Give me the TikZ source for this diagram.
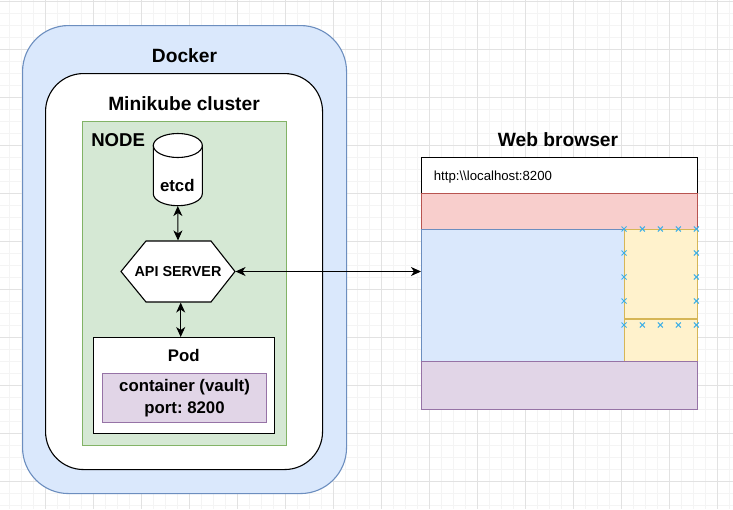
\documentclass[tikz,border=0pt]{standalone}
\usepackage{fontspec}
\setmainfont{Liberation Sans}
\usetikzlibrary{calc, arrows.meta}
\frenchspacing

\definecolor{dockerfill}{HTML}{DAE8FC}
\definecolor{dockerline}{HTML}{6C8EBF}
\definecolor{nodefill}{HTML}{D5E8D4}
\definecolor{nodeline}{HTML}{82B366}
\definecolor{vaultfill}{HTML}{E1D5E7}
\definecolor{vaultline}{HTML}{9673A6}
\definecolor{barfill}{HTML}{F8CECC}
\definecolor{barline}{HTML}{B85450}
\definecolor{sidefill}{HTML}{FFF2CC}
\definecolor{sideline}{HTML}{D6B656}
\definecolor{markcol}{HTML}{3FB0E6}
\definecolor{gridmajor}{HTML}{E2E2E2}
\definecolor{gridminor}{HTML}{F4F4F4}

\begin{document}
\begin{tikzpicture}[x=1pt, y=-1pt, line width=1.1pt,
	box/.style={draw, inner sep=0pt, anchor=north west},
	title/.style={anchor=base, inner sep=0pt, font=\fontsize{19.2}{23}\selectfont\bfseries},
	dblarrow/.style={line width=1pt, {Stealth[length=10pt, width=9pt, inset=3pt]}-{Stealth[length=10pt, width=9pt, inset=3pt]}},
	marker/.style={draw=markcol, line width=1pt}]
		%canvas
		\useasboundingbox (0,0) rectangle (733,509);
		\fill [white] (0,0) rectangle (733,509);
		
		%grid
		\foreach \gx in {9,21,...,729} \draw [gridminor, line width=0.8pt] (\gx,0) -- (\gx,509);
		\foreach \gy in {1.3,13.3,...,505.3} \draw [gridminor, line width=0.8pt] (0,\gy) -- (733,\gy);
		\foreach \gx in {45,93,...,717} \draw [gridmajor, line width=0.8pt] (\gx,0) -- (\gx,509);
		\foreach \gy in {1.3,49.3,...,481.3} \draw [gridmajor, line width=0.8pt] (0,\gy) -- (733,\gy);
		
		%docker and cluster
		\node [box, fill=dockerfill, draw=dockerline, rounded corners=46pt, minimum width=324pt, minimum height=468pt] (docker) at (22,25) {};
		\node [title] (dockerlabel) at (184.5,62) {Docker};
		\node [box, fill=white, rounded corners=38pt, minimum width=277pt, minimum height=396pt] (cluster) at (45,73) {};
		\node [title] (clusterlabel) at (184,110) {Minikube cluster};
		
		%node
		\node [box, fill=nodefill, draw=nodeline, minimum width=204pt, minimum height=324pt] (node) at (82,121) {};
		\node [anchor=base west, inner sep=0pt, font=\fontsize{18.6}{22}\selectfont\bfseries] (nodelabel) at (90.7,146) {NODE};
		
		%etcd
		\coordinate (etcdc) at (177.8,169.5);
		\draw [fill=white] ($(etcdc)+(-24.5,-24)$) -- ($(etcdc)+(-24.5,24.2)$) arc [start angle=180, end angle=0, x radius=24.5, y radius=12] -- ($(etcdc)+(24.5,-24)$) -- cycle;
		\draw [fill=white] ($(etcdc)+(0,-24)$) ellipse [x radius=24.5, y radius=12];
		\node [inner sep=0pt, minimum width=49pt, minimum height=72pt] (etcd) at (etcdc) {};
		\node [anchor=base, inner sep=0pt, font=\fontsize{16.8}{20}\selectfont\bfseries] (etcdlabel) at (177.3,191) {etcd};
		
		%api server
		\coordinate (apic) at (178,271.5);
		\draw [fill=white] ($(apic)+(-57,0)$) -- ($(apic)+(-32,-30.5)$) -- ($(apic)+(33,-30.5)$) -- ($(apic)+(57,0)$) -- ($(apic)+(33,30.5)$) -- ($(apic)+(-32,30.5)$) -- cycle;
		\node [inner sep=0pt, minimum width=114pt, minimum height=61pt, font=\fontsize{14.4}{17}\selectfont\bfseries] (api) at (apic) {API SERVER};
		
		%pod
		\node [box, fill=white, minimum width=181pt, minimum height=96pt] (pod) at (93,337) {};
		\node [anchor=base, inner sep=0pt, font=\fontsize{16.8}{20}\selectfont\bfseries] (podlabel) at (183.7,361.5) {Pod};
		\node [box, fill=vaultfill, draw=vaultline, minimum width=164pt, minimum height=49pt, align=center, font=\fontsize{16.8}{21.5}\selectfont\bfseries] (vault) at (102,373) {container (vault)\\port: 8200};
		
		%browser
		\node [title] (browserlabel) at (558,146) {Web browser};
		\node [box, fill=white, minimum width=276pt, minimum height=36pt] (addr) at (421,157) {};
		\node [anchor=base west, inner sep=0pt, font=\fontsize{13.2}{16}\selectfont] (url) at (433.3,180) {http:\textbackslash\textbackslash localhost:8200};
		\node [box, fill=barfill, draw=barline, minimum width=276pt, minimum height=36pt] (header) at (421,193) {};
		\node [box, fill=dockerfill, draw=dockerline, minimum width=203pt, minimum height=132pt] (page) at (421,229) {};
		\node [box, fill=sidefill, draw=sideline, minimum width=73pt, minimum height=132pt] (side) at (624,229) {};
		\draw [sideline] (624,319) -- (697,319);
		\node [box, fill=vaultfill, draw=vaultline, minimum width=276pt, minimum height=48pt] (footer) at (421,361) {};
		
		%connection points
		\foreach \mx/\my in {624/229, 642.3/229, 660.3/229, 678.3/229, 696.3/229,
			624/253, 624/277, 624/301, 696.3/253, 696.3/277, 696.3/301,
			624/325, 642.3/325, 660.3/325, 678.3/325, 696.3/325}
			\draw [marker] (\mx,\my) ++(-2.5,-2.5) -- ++(5,5) ++(-5,0) -- ++(5,-5);
		
		%links
		\draw [dblarrow] (etcd.south) -- (api.north);
		\draw [dblarrow] ([xshift=2.7pt]api.south) -- ([xshift=2.7pt]api.south |- pod.north);
		\draw [dblarrow] (api.east) -- (api.east -| page.west);
	\end{tikzpicture}
\end{document}
